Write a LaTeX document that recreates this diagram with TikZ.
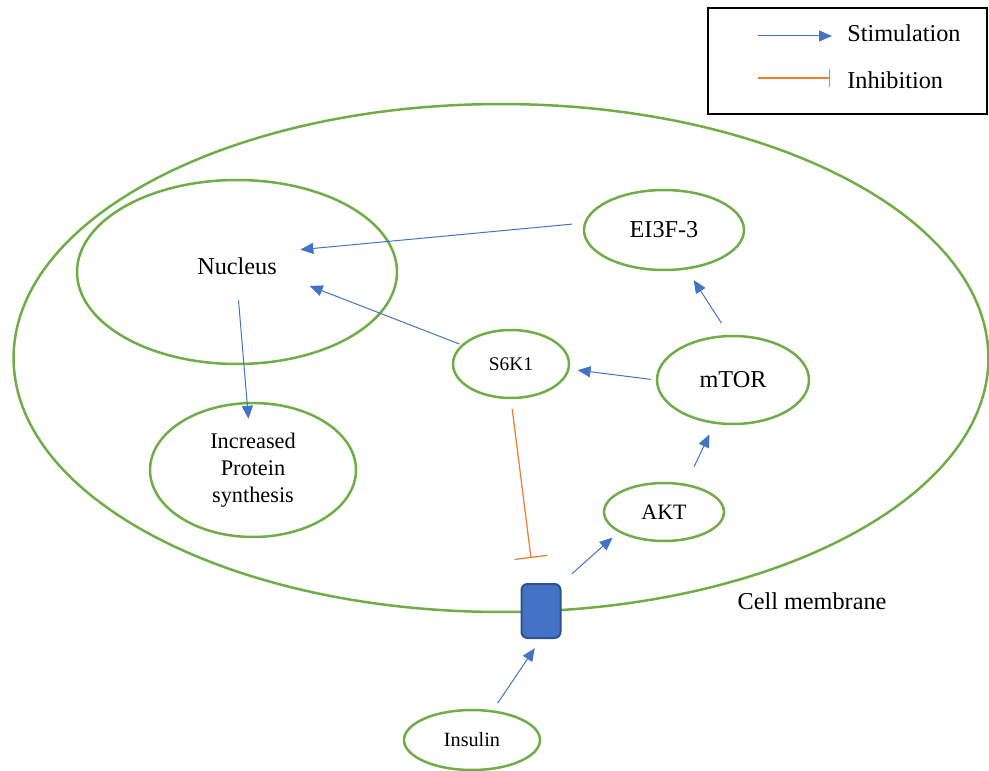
\documentclass[tikz,border=0pt]{standalone}
\usepackage{fontspec}
\setmainfont{Liberation Serif}
\usetikzlibrary{arrows.meta, shapes.geometric}

\definecolor{cellgreen}{HTML}{70AD47}
\definecolor{stimblue}{HTML}{4472C4}
\definecolor{inhorange}{HTML}{ED7D31}
\definecolor{recborder}{HTML}{2F528F}

\begin{document}
\begin{tikzpicture}[
    x=0.02cm, y=-0.02cm,
    font=\fontsize{13.8}{16}\selectfont,
    cellpart/.style={ellipse, draw=cellgreen, line width=0.05cm, inner sep=0pt, align=center},
    stim/.style={draw=stimblue, line width=0.02cm, -{Triangle[length=0.26cm, width=0.22cm]}},
    inhib/.style={draw=inhorange, line width=0.025cm, -{Bar[width=#1]}},
    inhib/.default=0.66cm
]
    \useasboundingbox (0,0) rectangle (989,770);

    % Cell
    \node[cellpart, minimum width=19.5cm, minimum height=10.16cm] (cell) at (501,358) {};
    \node (membr) at (812,601) {Cell membrane};

    % Receptor in the membrane
    \node[draw=recborder, fill=stimblue, line width=0.04cm, rounded corners=0.12cm,
          minimum width=0.78cm, minimum height=1.08cm, inner sep=0pt] (rec) at (541,611) {};

    % Nucleus
    \node[cellpart, minimum width=6.4cm, minimum height=3.68cm] (nucleus) at (237,272) {};
    \node[minimum width=2.52cm, minimum height=0.64cm, inner sep=0pt] (nuctext) at (237,266) {Nucleus};

    % Pathway members
    \node[cellpart, minimum width=3.2cm, minimum height=1.6cm] (ei) at (664,230) {EI3F-3};
    \node[cellpart, minimum width=2.32cm, minimum height=1.36cm, font=\fontsize{11}{13}\selectfont] (s6k1) at (511,364) {S6K1};
    \node[cellpart, minimum width=3.04cm, minimum height=1.76cm] (mtor) at (733,380) {mTOR};
    \node[cellpart, minimum width=2.4cm, minimum height=1.16cm, font=\fontsize{12.5}{15}\selectfont] (akt) at (664,512) {AKT};
    \node[cellpart, minimum width=4.12cm, minimum height=2.68cm, font=\fontsize{12.7}{15.5}\selectfont] (inc) at (253,470) {Increased\\Protein\\synthesis};
    \node[cellpart, minimum width=2.72cm, minimum height=1.2cm, font=\fontsize{11.5}{13}\selectfont] (ins) at (472,740) {Insulin};

    % Stimulation
    \draw[stim, shorten <=0.24cm] (ei.175) -- (nuctext.north east);
    \draw[stim, shorten <=0.04cm, shorten >=0.2cm] (s6k1) -- (nuctext.south east);
    \draw[stim, shorten <=0.36cm, shorten >=-0.34cm] (nuctext.south) -- (inc.95);
    \draw[stim, shorten <=0.1cm, shorten >=0.16cm] (mtor.west) -- (s6k1.-5);
    \draw[stim, shorten <=0.28cm, shorten >=0.25cm] (mtor.95) -- (ei.-60);
    \draw[stim, shorten <=0.38cm, shorten >=0.23cm] (akt.52) -- (mtor.-113);
    \draw[stim, shorten <=0.28cm, shorten >=0.16cm] (rec.north east) -- (akt.-156);
    \draw[stim, shorten <=0.17cm, shorten >=0.22cm] (ins.55) -- (rec.south);

    % Inhibition
    \coordinate (block) at (531,558);
    \draw[inhib, shorten <=0.2cm] (s6k1.south) -- (block);

    % Legend
    \draw[line width=0.03cm] (708,8) rectangle (987,114);
    \node[anchor=west, inner sep=0pt] (stimtxt) at (847,33) {Stimulation};
    \node[anchor=west, inner sep=0pt] (inhtxt) at (847,80) {Inhibition};
    \coordinate (stimstart) at (758,36);
    \coordinate (inhstart) at (758,78);
    \draw[stim] (stimstart) -- ++(74,0);
    \draw[inhib=0.36cm] (inhstart) -- ++(72,0);

\end{tikzpicture}
\end{document}
